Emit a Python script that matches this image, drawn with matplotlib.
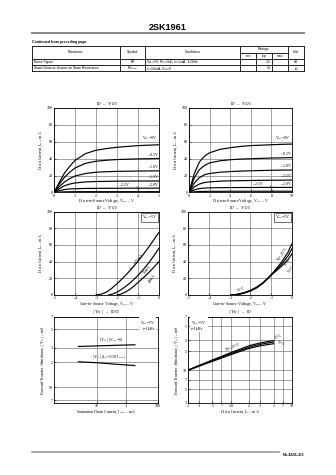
import matplotlib
matplotlib.use("Agg")
import matplotlib.pyplot as plt
from matplotlib.lines import Line2D
from matplotlib.ticker import FixedLocator, FixedFormatter, NullLocator

plt.rcParams['font.family'] = ['Liberation Serif', 'DejaVu Serif']
plt.rcParams['mathtext.fontset'] = 'stix'

W, H = 336, 475

# ---------------- data ----------------
# ID - VDS (low-voltage range)
vds_a = [0, 0.25, 0.5, 0.75, 1, 1.5, 2, 2.5, 3, 3.5, 4, 4.5, 5]
id_a = {
    "0":    [0, 12, 23, 31, 38, 46, 50, 52, 53.5, 54.5, 55.5, 56, 56.5],
    "-0.5": [0, 10, 18, 24, 29, 34.5, 37, 38.2, 39, 39.4, 39.8, 40, 40.3],
    "-1.0": [0, 7, 12.5, 16.5, 19.5, 22.5, 24, 24.6, 25, 25.2, 25.4, 25.5, 25.6],
    "-1.5": [0, 4.5, 8, 10, 11.3, 12.5, 13, 13.2, 13.4, 13.5, 13.6, 13.6, 13.7],
    "-2.0": [0, 2.2, 3.5, 4.2, 4.5, 4.8, 4.9, 5, 5, 5.1, 5.1, 5.1, 5.2],
    "-2.5": [0, 0.5, 0.8, 0.9, 1, 1, 1, 1, 1, 1, 1, 1, 1],
}
# ID - VDS (wide range)
vds_b = [0, 0.5, 1, 1.5, 2, 3, 4, 5, 6, 7, 8, 9, 10]
id_b = {
    "0":    [0, 22, 36, 43, 47, 51, 53, 54.5, 55.5, 56, 56.5, 57, 57.3],
    "-0.5": [0, 17, 27, 32, 35, 37.5, 38.8, 39.5, 40, 40.4, 40.8, 41, 41.3],
    "-1.0": [0, 11, 17.5, 21, 22.5, 24, 24.8, 25.3, 25.7, 26, 26.3, 26.5, 26.6],
    "-1.5": [0, 6.5, 10, 11.8, 12.6, 13.4, 13.8, 14, 14.2, 14.4, 14.5, 14.6, 14.7],
    "-2.0": [0, 3, 4.6, 5.2, 5.5, 5.7, 5.8, 5.9, 5.9, 6, 6, 6, 6],
    "-2.5": [0, 0.8, 1.2, 1.3, 1.4, 1.4, 1.5, 1.5, 1.5, 1.5, 1.5, 1.5, 1.5],
}
# ID - VGS for three IDSS ranks
vgs_75 = [-3.0, -2.75, -2.5, -2.25, -2.0, -1.75, -1.5, -1.25, -1.0, -0.75, -0.5, -0.25, 0]
id_75 = [0, 1, 3.5, 8, 13.5, 19.5, 26, 33, 40.5, 48.5, 57, 66, 75]
vgs_55 = [-2.4, -2.2, -2.0, -1.8, -1.6, -1.4, -1.2, -1.0, -0.8, -0.6, -0.4, -0.2, 0]
id_55 = [0, 1.2, 3.5, 6.5, 10, 14, 18.5, 23.5, 29, 35, 41.5, 48.5, 56]
vgs_40 = [-2.0, -1.8, -1.6, -1.4, -1.2, -1.0, -0.8, -0.6, -0.4, -0.2, 0]
id_40 = [0, 1.2, 3.5, 6.5, 10.5, 15, 19.5, 24, 29, 34.5, 40]
# ID - VGS for three ambient temperatures
vgs_t = [-2.9, -2.6, -2.3, -2.0, -1.7, -1.4, -1.1, -0.8, -0.5, -0.2, 0]
id_tm25 = [0, 0.6, 2.2, 4.8, 8.5, 14, 21.5, 30, 39.5, 51, 61.5]
id_t25 = [0, 0.8, 2.5, 5.2, 9, 14.3, 21.5, 29, 37, 46.5, 55.5]
id_t75 = [0, 1, 2.9, 5.6, 9.4, 14.6, 21.5, 28, 34.5, 42, 49.5]
# |Yfs| - IDSS
idss = [5, 10, 20, 42]
yfs_vgs0 = [31, 31.5, 32, 32.5]
yfs_tenth = [20.3, 19.8, 19, 18.3]
# |Yfs| - ID
id_c = [0.2, 0.3, 0.5, 0.7, 1.0, 1.5, 2, 3, 4, 5]
yfs_tm25 = [10, 11.8, 14.5, 16.5, 19, 22, 24.5, 27, 28.5, 29.5]
yfs_t25 = [10, 11.7, 14.2, 16, 18.3, 21, 23.2, 25.7, 27, 28]
yfs_t75 = [9.9, 11.5, 13.8, 15.5, 17.6, 20.2, 22.2, 24.3, 25.5, 26.3]

# table content
col_heads = ["Parameter", "Symbol", "Conditions", "Unit"]
rows = [
    ["Noise Figure", "NF", "V$_{DS}$=5V, R$_G$=1k$\\Omega$, I$_D$=1mA, f=1kHz", "", "1.5", "", "dB"],
    ["Static Drain-to-Source on State Resistance", "R$_{DS(on)}$", "I$_D$=10mA, V$_{GS}$=0", "", "14", "", "$\\Omega$"],
]

# ---------------- figure ----------------
fig = plt.figure(figsize=(W / 100, H / 100), dpi=100)
fig.patch.set_facecolor('white')


def fx(x):
    return x / W


def fy(y):
    return 1 - y / H


def ftext(x, y, s, **kw):
    fig.text(fx(x), fy(y), s, **kw)


def fline(x0, y0, x1, y1, **kw):
    fig.add_artist(Line2D([fx(x0), fx(x1)], [fy(y0), fy(y1)], transform=fig.transFigure, **kw))


SANS = ['Liberation Sans', 'DejaVu Sans']
ftext(168, 27, "2SK1961", ha='center', va='center', fontsize=6.5, weight='bold', family=SANS)
fline(32, 32.5, 304, 32.5, color='#8a8a8a', lw=1.4)
ftext(32, 42, "Continued from preceding page.", ha='left', va='center', fontsize=2.6, weight='bold', family=SANS)

# table grid
tx = [32, 120, 145, 240, 256, 272, 288, 304]
ty = [46, 52.7, 58.7, 65.3, 71.5]
lw_t = 0.6
fline(tx[0], ty[0], tx[-1], ty[0], color='k', lw=lw_t)
for y in ty[2:]:
    fline(tx[0], y, tx[-1], y, color='k', lw=lw_t)
fline(tx[3], ty[1], tx[6], ty[1], color='k', lw=lw_t)
for i, x in enumerate(tx):
    top = ty[1] if i in (4, 5) else ty[0]
    fline(x, top, x, ty[-1], color='k', lw=lw_t)
tfs = 2.4
ym = (ty[0] + ty[2]) / 2
ftext((tx[0] + tx[1]) / 2, ym, col_heads[0], ha='center', va='center', fontsize=tfs, family=SANS)
ftext((tx[1] + tx[2]) / 2, ym, col_heads[1], ha='center', va='center', fontsize=tfs, family=SANS)
ftext((tx[2] + tx[3]) / 2, ym, col_heads[2], ha='center', va='center', fontsize=tfs, family=SANS)
ftext((tx[6] + tx[7]) / 2, ym, col_heads[3], ha='center', va='center', fontsize=tfs, family=SANS)
ftext((tx[3] + tx[6]) / 2, (ty[0] + ty[1]) / 2, "Ratings", ha='center', va='center', fontsize=tfs, family=SANS)
for j, s in enumerate(["min", "typ", "max"]):
    ftext((tx[3 + j] + tx[4 + j]) / 2, (ty[1] + ty[2]) / 2, s, ha='center', va='center', fontsize=tfs, family=SANS)
for r, row in enumerate(rows):
    yc = (ty[2 + r] + ty[3 + r]) / 2
    ftext(tx[0] + 1.5, yc, row[0], ha='left', va='center', fontsize=tfs, family=SANS)
    ftext((tx[1] + tx[2]) / 2, yc, row[1], ha='center', va='center', fontsize=tfs, family=SANS)
    ftext(tx[2] + 1.5, yc, row[2], ha='left', va='center', fontsize=tfs, family=SANS)
    for j in range(3):
        if row[3 + j]:
            ftext(tx[4 + j] - 1.5, yc, row[3 + j], ha='right', va='center', fontsize=tfs, family=SANS)
    ftext((tx[6] + tx[7]) / 2, yc, row[6], ha='center', va='center', fontsize=tfs, family=SANS)

# footer
fline(32, 452, 279, 452, color='#9a9a9a', lw=1.2)
ftext(304, 455, "No.4831-3/3", ha='right', va='center', fontsize=2.8, weight='bold', family=SANS)

FS = 2.9
LW = 0.85
TPAD = 0.5


def make_ax(x0, x1, y0, y1):
    ax = fig.add_axes([fx(x0), fy(y1), (x1 - x0) / W, (y1 - y0) / H])
    for s in ax.spines.values():
        s.set_linewidth(0.6)
    ax.tick_params(labelsize=FS, length=1.2, width=0.4, direction='in', pad=1.0)
    ax.tick_params(which='minor', length=0)
    ax.grid(True, which='major', color='#5a5a5a', lw=0.4)
    ax.set_axisbelow(True)
    return ax


def vds_box(ax, s):
    ax.text(0.985, 0.975, s, transform=ax.transAxes, ha='right', va='top', fontsize=FS,
            bbox=dict(boxstyle='square,pad=0.25', fc='white', ec='k', lw=0.4))


# ---- ID - VDS, 0..5 V ----
ax = make_ax(54, 159, 108, 192.5)
for k, v in id_a.items():
    ax.plot(vds_a, v, color='k', lw=LW)
ax.set_xlim(0, 5)
ax.set_ylim(0, 100)
ax.set_xticks([0, 1, 2, 3, 4, 5])
ax.set_yticks([0, 20, 40, 60, 80, 100])
ax.set_title("I$_D$  –  V$_{DS}$", fontsize=3.6, pad=TPAD)
ax.set_xlabel("Drain-to-Source Voltage, V$_{DS}$ – V", fontsize=FS, labelpad=0.2)
ax.set_ylabel("Drain Current, I$_D$ – mA", fontsize=FS, labelpad=1)
ax.text(4.95, 59.5, "V$_{GS}$=0V", ha='right', va='bottom', fontsize=FS)
ax.text(4.95, 42.5, "– 0.5V", ha='right', va='bottom', fontsize=FS)
ax.text(4.95, 28, "– 1.0V", ha='right', va='bottom', fontsize=FS)
ax.text(4.95, 15.5, "– 1.5V", ha='right', va='bottom', fontsize=FS)
ax.text(4.95, 7, "– 2.0V", ha='right', va='bottom', fontsize=FS)
ax.text(3.55, 7, "– 2.5V", ha='right', va='bottom', fontsize=FS)
ax.plot([3.95, 4.05], [7, 1.1], color='k', lw=0.4)

# ---- ID - VDS, 0..10 V ----
ax = make_ax(189, 292, 108, 192.5)
for k, v in id_b.items():
    ax.plot(vds_b, v, color='k', lw=LW)
ax.set_xlim(0, 10)
ax.set_ylim(0, 100)
ax.set_xticks([0, 2, 4, 6, 8, 10])
ax.set_yticks([0, 20, 40, 60, 80, 100])
ax.set_title("I$_D$  –  V$_{DS}$", fontsize=3.6, pad=TPAD)
ax.set_xlabel("Drain-to-Source Voltage, V$_{DS}$ – V", fontsize=FS, labelpad=0.2)
ax.set_ylabel("Drain Current, I$_D$ – mA", fontsize=FS, labelpad=1)
ax.text(9.9, 60, "V$_{GS}$=0V", ha='right', va='bottom', fontsize=FS)
ax.text(9.9, 43.5, "– 0.5V", ha='right', va='bottom', fontsize=FS)
ax.text(9.9, 29, "– 1.0V", ha='right', va='bottom', fontsize=FS)
ax.text(9.9, 17, "– 1.5V", ha='right', va='bottom', fontsize=FS)
ax.text(9.9, 8, "– 2.0V", ha='right', va='bottom', fontsize=FS)
ax.text(7.2, 8, "– 2.5V", ha='right', va='bottom', fontsize=FS)
ax.plot([7.9, 8.1], [8, 1.6], color='k', lw=0.4)

# ---- ID - VGS, IDSS ranks ----
ax = make_ax(54, 159, 211.5, 295)
ax.plot(vgs_75, id_75, color='k', lw=LW)
ax.plot(vgs_55, id_55, color='k', lw=LW)
ax.plot(vgs_40, id_40, color='k', lw=LW)
ax.set_xlim(-5, 0)
ax.set_ylim(0, 100)
ax.set_xticks([-5, -4, -3, -2, -1, 0])
ax.set_xticklabels(["–5", "–4", "–3", "–2", "–1", "0"])
ax.set_yticks([0, 20, 40, 60, 80, 100])
ax.set_title("I$_D$  –  V$_{GS}$", fontsize=3.6, pad=TPAD)
ax.set_xlabel("Gate-to-Source Voltage, V$_{GS}$ – V", fontsize=FS, labelpad=0.2)
ax.set_ylabel("Drain Current, I$_D$ – mA", fontsize=FS, labelpad=1)
vds_box(ax, "V$_{DS}$=5V")
ax.text(-1.05, 40, "I$_{DSS}$=75mA", rotation=52, ha='center', va='center', fontsize=FS)
ax.text(-0.55, 31, "55mA", rotation=52, ha='center', va='center', fontsize=FS)
ax.text(-0.3, 20, "40mA", rotation=52, ha='center', va='center', fontsize=FS)

# ---- ID - VGS, temperature ----
ax = make_ax(188, 292, 211.5, 295)
ax.plot(vgs_t, id_tm25, color='k', lw=LW)
ax.plot(vgs_t, id_t25, color='k', lw=LW)
ax.plot(vgs_t, id_t75, color='k', lw=LW)
ax.set_xlim(-5, 0)
ax.set_ylim(0, 100)
ax.set_xticks([-5, -4, -3, -2, -1, 0])
ax.set_xticklabels(["–5", "–4", "–3", "–2", "–1", "0"])
ax.set_yticks([0, 20, 40, 60, 80, 100])
ax.set_title("I$_D$  –  V$_{GS}$", fontsize=3.6, pad=TPAD)
ax.set_xlabel("Gate-to-Source Voltage, V$_{GS}$ – V", fontsize=FS, labelpad=0.2)
ax.set_ylabel("Drain Current, I$_D$ – mA", fontsize=FS, labelpad=1)
vds_box(ax, "V$_{DS}$=5V")
ax.text(-0.45, 50, "Ta=–25°C", rotation=55, ha='center', va='center', fontsize=FS)
ax.text(-0.2, 40, "25°C", rotation=55, ha='center', va='center', fontsize=FS)
ax.text(-0.05, 31, "75°C", rotation=55, ha='center', va='center', fontsize=FS)
ax.text(-2.45, 6.5, "75°C", rotation=25, ha='center', va='center', fontsize=FS)

# ---- |Yfs| - IDSS ----
ax = make_ax(54, 158, 317, 403)
ax.plot(idss, yfs_vgs0, color='k', lw=LW)
ax.plot(idss, yfs_tenth, color='k', lw=LW)
ax.set_xscale('log')
ax.set_yscale('log')
ax.set_xlim(2, 100)
ax.set_ylim(6.5, 70)
ax.xaxis.set_major_locator(FixedLocator([10, 30, 100]))
ax.xaxis.set_major_formatter(FixedFormatter(["10", "3", "100"]))
ax.xaxis.set_minor_locator(NullLocator())
ax.yaxis.set_major_locator(FixedLocator([7, 10, 20, 30, 50, 70]))
ax.yaxis.set_major_formatter(FixedFormatter(["7", "10", "2", "3", "5", "7"]))
ax.yaxis.set_minor_locator(NullLocator())
ax.set_title("| Y$_{fs}$ |  –  I$_{DSS}$", fontsize=3.6, pad=TPAD)
ax.set_xlabel("Saturation Drain Current, I$_{DSS}$ – mA", fontsize=FS, labelpad=0.5)
ax.set_ylabel("Forward Transfer Admittance, | Y$_{fs}$ | – mS", fontsize=FS, labelpad=1)
ax.text(0.975, 0.975, "V$_{DS}$=5V\nf=1kHz", transform=ax.transAxes, ha='right', va='top', fontsize=FS,
        bbox=dict(boxstyle='square,pad=0.2', fc='white', ec='none'))
ax.text(11, 33.5, "| Y$_{fs}$ | (V$_{GS}$=0)", ha='left', va='bottom', fontsize=FS)
ax.text(8.5, 20.5, "| Y$_{fs}$ | (I$_D$=1/10 I$_{DSS}$)", ha='left', va='bottom', fontsize=FS)

# ---- |Yfs| - ID ----
ax = make_ax(188, 292, 317, 403)
ax.plot(id_c, yfs_tm25, color='k', lw=LW)
ax.plot(id_c, yfs_t25, color='k', lw=LW)
ax.plot(id_c, yfs_t75, color='k', lw=LW)
ax.set_xscale('log')
ax.set_yscale('log')
ax.set_xlim(0.2, 10)
ax.set_ylim(3, 70)
xt = [0.2, 0.3, 0.5, 0.7, 1.0, 2, 3, 5, 7, 10]
ax.xaxis.set_major_locator(FixedLocator(xt))
ax.xaxis.set_major_formatter(FixedFormatter(["2", "3", "5", "7", "1.0", "2", "3", "5", "7", "10"]))
ax.xaxis.set_minor_locator(NullLocator())
yt = [3, 5, 7, 10, 20, 30, 50, 70]
ax.yaxis.set_major_locator(FixedLocator(yt))
ax.yaxis.set_major_formatter(FixedFormatter(["3", "5", "7", "10", "2", "3", "5", "7"]))
ax.yaxis.set_minor_locator(NullLocator())
ax.set_title("| Y$_{fs}$ |  –  I$_D$", fontsize=3.6, pad=TPAD)
ax.set_xlabel("Drain Current, I$_D$ – mA", fontsize=FS, labelpad=0.5)
ax.set_ylabel("Forward Transfer Admittance, | Y$_{fs}$ | – mS", fontsize=FS, labelpad=1)
ax.text(0.03, 0.975, "V$_{DS}$=5V\nf=1kHz", transform=ax.transAxes, ha='left', va='top', fontsize=FS,
        bbox=dict(boxstyle='square,pad=0.2', fc='white', ec='none'))
ax.text(1.1, 23.5, "Ta=–25°C", rotation=22, ha='center', va='center', fontsize=FS)
ax.text(6.0, 34, "25°C", rotation=20, ha='center', va='center', fontsize=FS)
ax.text(6.6, 27, "75°C", rotation=-20, ha='center', va='center', fontsize=FS)

fig.savefig("out.png", dpi=100, facecolor='white')
